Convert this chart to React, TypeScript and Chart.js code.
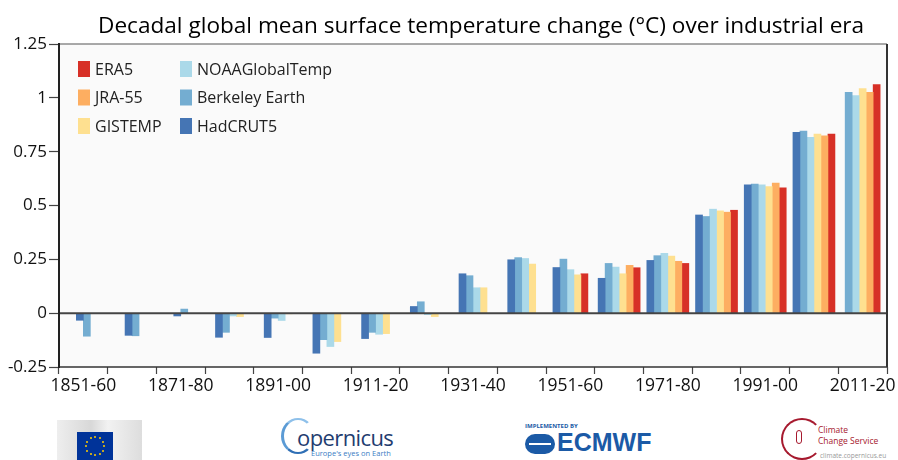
import React, { useEffect, useRef } from 'react';
import { Chart, registerables } from 'chart.js';

Chart.register(...registerables);

const chartTitle = 'Decadal global mean surface temperature change (°C) over industrial era';
const categories = ['1851-60', '1861-70', '1871-80', '1881-90', '1891-00', '1901-10', '1911-20', '1921-30', '1931-40', '1941-50', '1951-60', '1961-70', '1971-80', '1981-90', '1991-00', '2001-10', '2011-20'];
const shownXLabels = ['1851-60', '1871-80', '1891-00', '1911-20', '1931-40', '1951-60', '1971-80', '1991-00', '2011-20'];
const yTickValues = [1.25, 1, 0.75, 0.5, 0.25, 0, -0.25];

const hadcrut5 = [-0.033, -0.103, -0.013, -0.112, -0.113, -0.186, -0.118, 0.031, 0.183, 0.248, 0.212, 0.162, 0.245, 0.456, 0.596, 0.840, null];
const berkeley = [-0.107, -0.105, 0.019, -0.089, -0.023, -0.123, -0.089, 0.053, 0.174, 0.258, 0.251, 0.231, 0.267, 0.449, 0.599, 0.846, 1.026];
const noaa = [null, null, null, -0.013, -0.034, -0.155, -0.098, -0.007, 0.118, 0.254, 0.202, 0.214, 0.278, 0.483, 0.596, 0.817, 1.011];
const gistemp = [null, null, null, -0.016, -0.003, -0.132, -0.095, -0.016, 0.118, 0.228, 0.178, 0.183, 0.265, 0.475, 0.588, 0.832, 1.043];
const jra55 = [null, null, null, null, null, null, null, null, null, null, null, 0.222, 0.241, 0.469, 0.604, 0.824, 1.026];
const era5 = [null, null, null, null, null, null, null, null, null, null, 0.183, 0.211, 0.231, 0.478, 0.582, 0.832, 1.061];

const seriesNames = ['HadCRUT5', 'Berkeley Earth', 'NOAAGlobalTemp', 'GISTEMP', 'JRA-55', 'ERA5'];
const seriesColors = ['#4575b4', '#74add1', '#abd9e9', '#fee090', '#fdae61', '#d73027'];
const seriesData = [hadcrut5, berkeley, noaa, gistemp, jra55, era5];
// legend layout: column-major, two columns of three
const legendColumns = [['ERA5', 'JRA-55', 'GISTEMP'], ['NOAAGlobalTemp', 'Berkeley Earth', 'HadCRUT5']];

const FONT = "'Open Sans', 'DejaVu Sans', sans-serif";

const framePlugin = {
  id: 'frame',
  beforeDraw(chart: any) {
    const { ctx, chartArea: a, width, height } = chart;
    ctx.save();
    ctx.fillStyle = '#ffffff';
    ctx.fillRect(0, 0, width, height);
    ctx.fillStyle = '#fafafa';
    ctx.fillRect(a.left, a.top, a.right - a.left, a.bottom - a.top);
    ctx.restore();
  },
  afterDatasetsDraw(chart: any) {
    const { ctx, chartArea: a } = chart;
    const y0 = chart.scales.y.getPixelForValue(0);
    ctx.save();
    ctx.strokeStyle = '#444444';
    ctx.lineWidth = 2;
    ctx.beginPath();
    ctx.moveTo(a.left, y0);
    ctx.lineTo(a.right, y0);
    ctx.stroke();
    // frame
    ctx.strokeStyle = '#555555';
    ctx.lineWidth = 1.2;
    ctx.beginPath();
    ctx.moveTo(a.left, a.top);
    ctx.lineTo(a.right, a.top);
    ctx.stroke();
    ctx.strokeStyle = '#333333';
    ctx.lineWidth = 1.5;
    ctx.beginPath();
    ctx.moveTo(a.left, a.bottom);
    ctx.lineTo(a.right, a.bottom);
    ctx.stroke();
    ctx.lineWidth = 2;
    ctx.beginPath();
    ctx.moveTo(a.right, a.top);
    ctx.lineTo(a.right, a.bottom);
    ctx.stroke();
    ctx.strokeStyle = '#222222';
    ctx.beginPath();
    ctx.moveTo(a.left, a.top - 1);
    ctx.lineTo(a.left, a.bottom + 1);
    ctx.stroke();
    ctx.restore();
  },
  afterDraw(chart: any) {
    const { ctx } = chart;
    ctx.save();
    ctx.font = `22.6px ${FONT}`;
    ctx.fillStyle = '#000000';
    ctx.textAlign = 'left';
    ctx.textBaseline = 'alphabetic';
    ctx.fillText(chartTitle, 98, 33);
    ctx.restore();
  },
};

const gridLegendPlugin = {
  id: 'gridLegend',
  afterDraw(chart: any) {
    const { ctx, chartArea: a } = chart;
    const colX = [a.left + 19, a.left + 121];
    const rowY = [a.top + 25, a.top + 53.5, a.top + 82];
    ctx.save();
    ctx.font = `16px ${FONT}`;
    ctx.textBaseline = 'middle';
    ctx.textAlign = 'left';
    legendColumns.forEach((col, ci) => {
      col.forEach((name, ri) => {
        const ds = chart.data.datasets.find((d: any) => d.label === name);
        if (!ds) return;
        ctx.fillStyle = ds.backgroundColor;
        ctx.fillRect(colX[ci], rowY[ri] - 8, 12, 16);
        ctx.fillStyle = '#222222';
        ctx.fillText(name, colX[ci] + 17, rowY[ri] + 1);
      });
    });
    ctx.restore();
  },
};

function ChartCanvas() {
  const ref = useRef<HTMLCanvasElement | null>(null);
  useEffect(() => {
    if (!ref.current) return;
    const chart = new Chart(ref.current, {
      type: 'bar',
      data: {
        labels: categories,
        datasets: seriesNames.map((name, i) => ({
          label: name,
          data: seriesData[i],
          backgroundColor: seriesColors[i],
          borderWidth: 0,
          barThickness: 7,
          skipNull: true,
        })),
      },
      options: {
        animation: false,
        responsive: true,
        maintainAspectRatio: false,
        layout: { padding: { left: 0, right: 11, top: 44, bottom: 0 } },
        plugins: {
          legend: { display: false },
          tooltip: { enabled: false },
          title: { display: false },
        },
        scales: {
          x: {
            type: 'category',
            offset: true,
            grid: {
              offset: true,
              drawOnChartArea: false,
              drawTicks: true,
              tickLength: 7,
              tickColor: '#444444',
              tickWidth: 1.2,
            },
            border: { display: false },
            ticks: {
              autoSkip: false,
              maxRotation: 0,
              minRotation: 0,
              padding: 2,
              color: '#111111',
              font: { family: FONT, size: 17.5 },
              callback: (_v: any, idx: number) => (shownXLabels.includes(categories[idx]) ? categories[idx] : ''),
            },
            afterFit: (scale: any) => {
              scale.height = 33;
            },
          },
          y: {
            min: -0.25,
            max: 1.25,
            grid: {
              drawOnChartArea: false,
              drawTicks: true,
              tickLength: 10,
              tickColor: '#444444',
              tickWidth: 1.2,
            },
            border: { display: false },
            ticks: {
              stepSize: 0.25,
              padding: 2,
              color: '#111111',
              font: { family: FONT, size: 17 },
              callback: (v: any) => {
                const t = yTickValues.find((x) => Math.abs(x - Number(v)) < 1e-6);
                return t === undefined ? '' : String(t);
              },
            },
            afterFit: (scale: any) => {
              scale.width = 59;
            },
          },
        },
      },
      plugins: [framePlugin, gridLegendPlugin],
    } as any);
    return () => chart.destroy();
  }, []);
  return <canvas ref={ref} />;
}

function Stars() {
  const stars = [];
  for (let i = 0; i < 12; i++) {
    const ang = (i / 12) * Math.PI * 2;
    const x = 18 + Math.cos(ang) * 9 - 1;
    const y = 14 + Math.sin(ang) * 9 - 1;
    stars.push(
      <div key={i} style={{ position: 'absolute', left: x, top: y, width: 2, height: 2, borderRadius: 1, background: '#ffcc00' }} />
    );
  }
  return <>{stars}</>;
}

function Logos() {
  return (
    <div style={{ position: 'absolute', left: 0, top: 400, width: 898, height: 60, fontFamily: FONT }}>
      {/* EU logo */}
      <div style={{ position: 'absolute', left: 57, top: 20, width: 85, height: 40, background: 'linear-gradient(90deg, #eeeeee, #d8d8d8 40%, #f2f2f2 60%, #dddddd)' }} />
      <div style={{ position: 'absolute', left: 77, top: 32, width: 36, height: 28, background: '#003399' }}>
        <Stars />
      </div>
      {/* Copernicus */}
      <div style={{ position: 'absolute', left: 281, top: 18, width: 34, height: 36, borderRadius: '50%', borderLeft: '3px solid #5b9bd5', borderTop: '2px solid #8ec0ea', borderBottom: '2px solid #2f6fb5', borderRight: '3px solid transparent', boxSizing: 'border-box' }} />
      <div style={{ position: 'absolute', left: 297, top: 22, fontSize: 22, color: '#1f3d70', letterSpacing: -0.6 }}>opernicus</div>
      <div style={{ position: 'absolute', left: 311, top: 48, fontSize: 7.5, color: '#3b7dc4' }}>Europe's eyes on Earth</div>
      {/* ECMWF */}
      <div style={{ position: 'absolute', left: 525, top: 22, fontSize: 6, fontWeight: 700, color: '#1b5aa6' }}>IMPLEMENTED BY</div>
      <div style={{ position: 'absolute', left: 525, top: 34, width: 30, height: 20, borderRadius: 10, background: '#1b5aa6' }}>
        <div style={{ position: 'absolute', left: 4, top: 9, width: 22, height: 2, background: '#ffffff' }} />
      </div>
      <div style={{ position: 'absolute', left: 557, top: 28, fontSize: 25, fontWeight: 800, color: '#1b5aa6', fontFamily: "'Liberation Sans', Arial, sans-serif" }}>ECMWF</div>
      {/* Climate Change Service */}
      <div style={{ position: 'absolute', left: 781, top: 18, width: 42, height: 42, borderRadius: '50%', border: '2px solid #a6192e', borderRightColor: 'transparent', boxSizing: 'border-box' }} />
      <div style={{ position: 'absolute', left: 796, top: 30, width: 6, height: 14, borderRadius: 3, border: '1.5px solid #a6192e', boxSizing: 'border-box' }} />
      <div style={{ position: 'absolute', left: 818, top: 24, fontSize: 8.5, lineHeight: '11px', color: '#a6192e' }}>
        Climate
        <br />
        Change Service
      </div>
      <div style={{ position: 'absolute', left: 820, top: 51, fontSize: 6.5, color: '#999999' }}>climate.copernicus.eu</div>
    </div>
  );
}

export default function App() {
  useEffect(() => {
    document.body.style.margin = '0';
    document.body.style.background = '#ffffff';
  }, []);
  return (
    <div style={{ position: 'relative', width: 898, height: 460, background: '#ffffff', overflow: 'hidden' }}>
      <div style={{ position: 'absolute', left: 0, top: 0, width: 898, height: 400 }}>
        <ChartCanvas />
      </div>
      <Logos />
    </div>
  );
}
